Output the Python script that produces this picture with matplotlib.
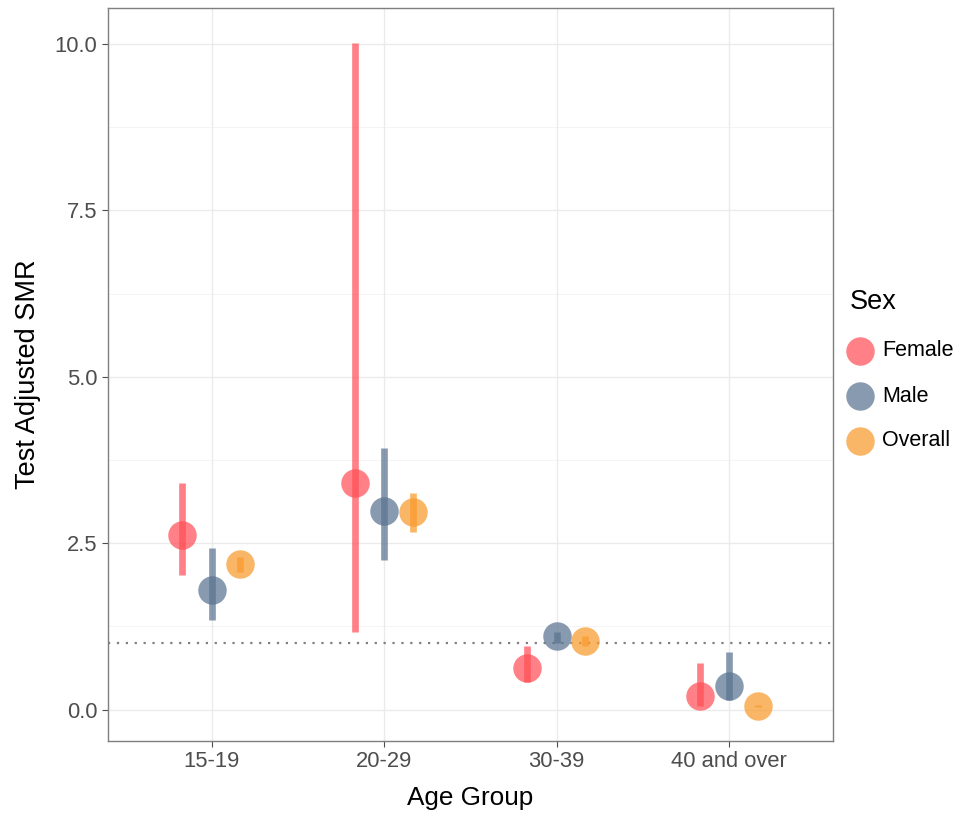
import matplotlib
matplotlib.use("Agg")
import matplotlib.pyplot as plt
from matplotlib.lines import Line2D
import numpy as np

plt.rcParams['font.family'] = ['Liberation Sans', 'DejaVu Sans']

age_groups = ["15-19", "20-29", "30-39", "40 and over"]
sexes = ["Female", "Male", "Overall"]
colors = {"Female": "#FF4F57", "Male": "#5A7490", "Overall": "#F99A2C"}

smr = {
    "Female":  [2.63, 3.41, 0.62, 0.20],
    "Male":    [1.80, 2.99, 1.10, 0.36],
    "Overall": [2.19, 2.97, 1.03, 0.05],
}
lower = {
    "Female":  [2.03, 1.16, 0.41, 0.05],
    "Male":    [1.34, 2.25, 1.00, 0.15],
    "Overall": [2.07, 2.67, 0.96, 0.04],
}
upper = {
    "Female":  [3.41, 10.02, 0.95, 0.70],
    "Male":    [2.43, 3.93, 1.17, 0.87],
    "Overall": [2.30, 3.26, 1.11, 0.07],
}
offsets = {"Female": -0.17, "Male": 0.0, "Overall": 0.165}

W, H = 956, 816
fig = plt.figure(figsize=(W / 100, H / 100), dpi=100)
ax = fig.add_axes([0.113, 0.092, 0.758, 0.898])

x = np.arange(1, len(age_groups) + 1)

# grid
for v in [1.25, 3.75, 6.25, 8.75]:
    ax.axhline(v, color="#F2F2F2", lw=0.6, zorder=0)
for v in [0, 2.5, 5, 7.5, 10]:
    ax.axhline(v, color="#EBEBEB", lw=1.0, zorder=0)
for xi in x:
    ax.axvline(xi, color="#EBEBEB", lw=1.0, zorder=0)

ax.axhline(1.0, color="#7F7F7F", lw=1.6, ls=(0, (1, 3)), zorder=1)

for s in sexes:
    xs = x + offsets[s]
    for xi, lo, hi in zip(xs, lower[s], upper[s]):
        ax.plot([xi, xi], [lo, hi], color=colors[s], alpha=0.72, lw=4.8,
                solid_capstyle="butt", zorder=3)
    ax.plot(xs, smr[s], 'o', ms=20.5, color=colors[s], alpha=0.72,
            markeredgewidth=0, zorder=2)

ax.set_xlim(0.4, 4.6)
ax.set_ylim(-0.47, 10.54)
ax.set_xticks(x)
ax.set_xticklabels(age_groups)
ax.set_yticks([0, 2.5, 5, 7.5, 10])
ax.set_yticklabels(["0.0", "2.5", "5.0", "7.5", "10.0"])
ax.tick_params(axis="both", labelsize=15.8, colors="#4D4D4D", length=4, width=0.8,
               labelcolor="#4D4D4D")
for sp in ax.spines.values():
    sp.set_color("#7F7F7F")
    sp.set_linewidth(1.0)

ax.set_xlabel("Age Group", fontsize=18.8, labelpad=10)
ax.set_ylabel("Test Adjusted SMR", fontsize=19.5, labelpad=10)

# legend (manual placement)
fig.text(850 / W, 1 - 302 / H, "Sex", fontsize=19.5, ha="left", va="center")
for i, s in enumerate(sexes):
    yy = 1 - (351 + 45 * i) / H
    fig.add_artist(Line2D([860 / W], [yy], transform=fig.transFigure, marker='o',
                          ls='', ms=20.5, color=colors[s], alpha=0.72,
                          markeredgewidth=0))
    fig.text(882 / W, yy, s, fontsize=15.5, ha="left", va="center")

fig.savefig("out.png", dpi=100)
